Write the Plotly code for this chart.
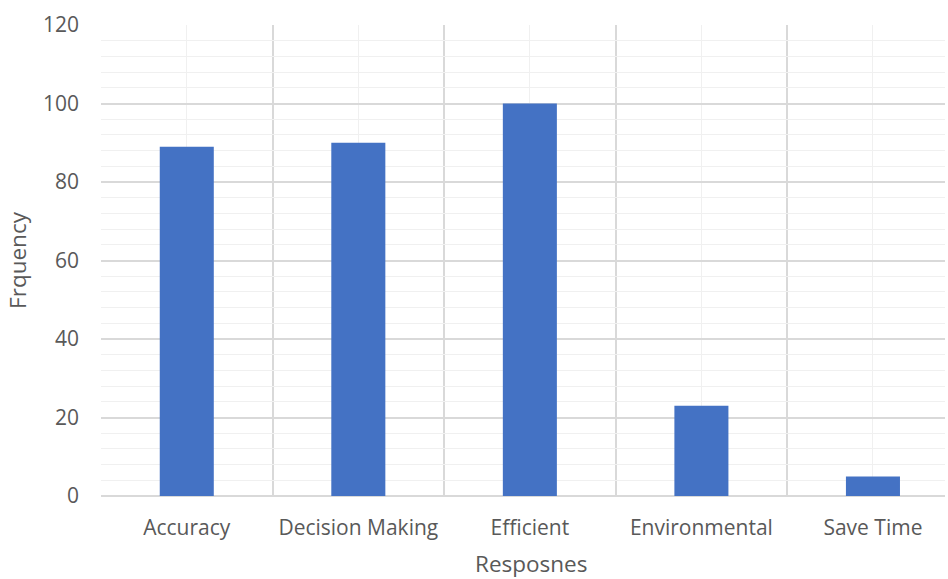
import plotly.graph_objects as go

# Survey responses and their frequencies
categories = ["Accuracy", "Decision Making", "Efficient", "Environmental", "Save Time"]
frequency = [89, 90, 100, 23, 5]

positions = list(range(len(categories)))
boundaries = [p - 0.5 for p in positions] + [positions[-1] + 0.5]

major_grid = "#d9d9d9"
minor_grid = "#f0f0f0"
text_grey = "#595959"
font_family = "'Open Sans', Lato, sans-serif"

fig = go.Figure()
fig.add_trace(go.Bar(
    x=positions,
    y=frequency,
    width=0.315,
    marker=dict(color="#4472C4", line=dict(width=0)),
))

fig.update_layout(
    width=948,
    height=579,
    margin=dict(l=101, r=3, t=25, b=83),
    paper_bgcolor="white",
    plot_bgcolor="white",
    showlegend=False,
    font=dict(family=font_family, color=text_grey, size=21),
    xaxis=dict(
        range=[-0.5, 4.42],
        tickmode="array",
        tickvals=positions,
        ticktext=categories,
        showgrid=True,
        gridcolor=minor_grid,
        gridwidth=1.3,
        minor=dict(tickmode="array", tickvals=boundaries, showgrid=True,
                   gridcolor=major_grid, gridwidth=1.5, ticklen=0),
        ticks="",
        ticklabelstandoff=17,
        zeroline=False,
        showline=False,
        fixedrange=True,
    ),
    yaxis=dict(
        range=[0, 120],
        tickmode="linear",
        tick0=0,
        dtick=20,
        showgrid=True,
        gridcolor=major_grid,
        gridwidth=1.5,
        minor=dict(dtick=4, showgrid=True, gridcolor=minor_grid, gridwidth=1.3),
        ticks="",
        ticklabelstandoff=21,
        zeroline=True,
        zerolinecolor=major_grid,
        zerolinewidth=1.5,
        showline=False,
        title=dict(text="Frquency", font=dict(size=22.5, color=text_grey), standoff=10),
        fixedrange=True,
    ),
    annotations=[dict(
        text="Resposnes",
        xref="paper", yref="paper",
        x=0.5095, y=-0.143,
        xanchor="center", yanchor="middle",
        showarrow=False,
        font=dict(size=22.5, color=text_grey),
    )],
)

fig.write_html("out.html")
